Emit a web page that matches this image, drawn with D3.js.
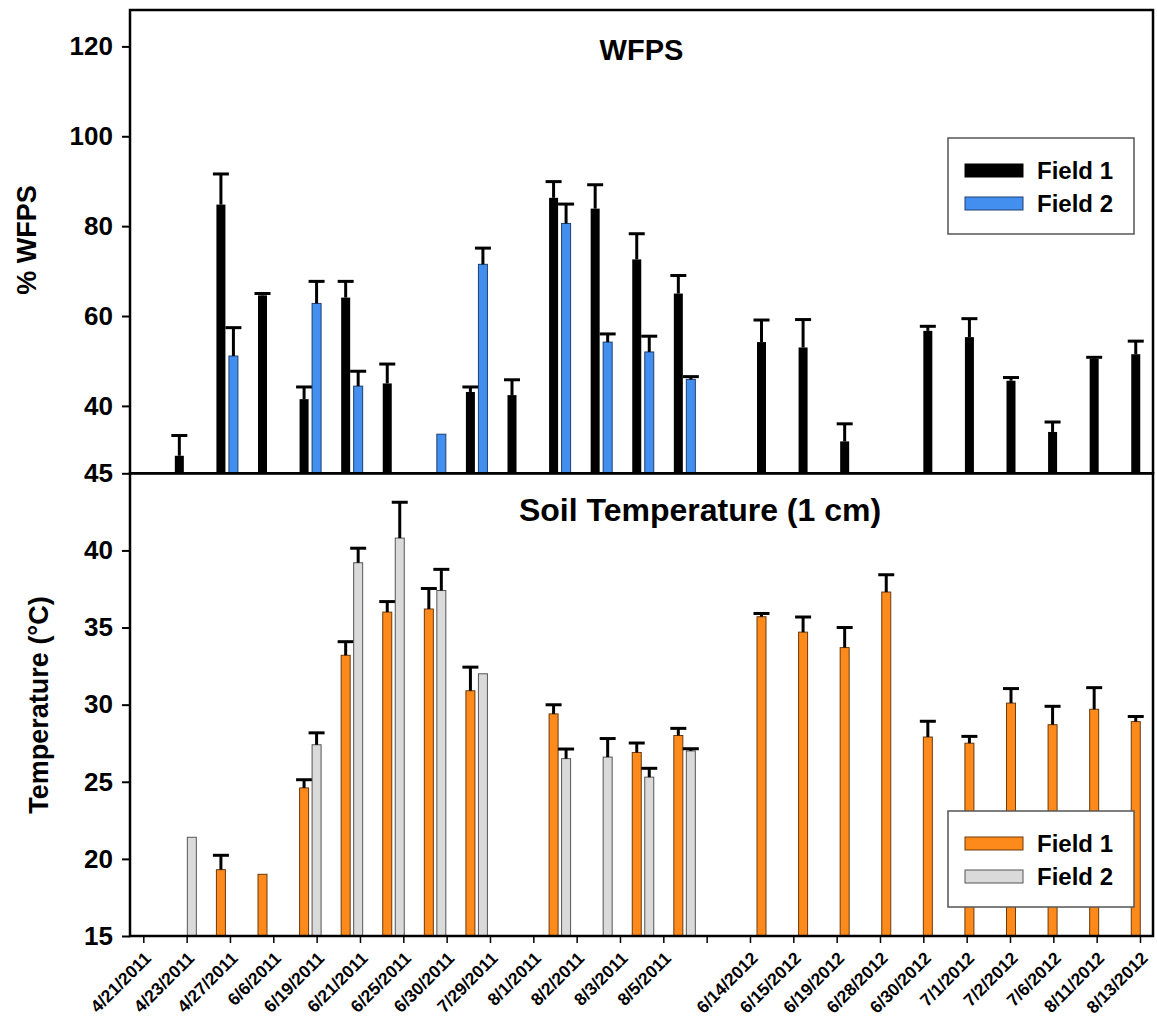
<!DOCTYPE html>
<html>
<head>
<meta charset="utf-8">
<script src="https://cdn.jsdelivr.net/npm/d3@7"></script>
<style>
  html, body { margin: 0; padding: 0; background: #fff; }
  svg { display: block; font-family: "Liberation Sans", Arial, sans-serif; font-weight: bold; }
</style>
</head>
<body>
<div id="chart"></div>
<script>
/* tick labels: 24 dates on the axis (one left blank between the seasons) */
var dateLabels = ["4/21/2011", "4/23/2011", "4/27/2011", "6/6/2011", "6/19/2011", "6/21/2011",
  "6/25/2011", "6/30/2011", "7/29/2011", "8/1/2011", "8/2/2011", "8/3/2011", "8/5/2011", "",
  "6/14/2012", "6/15/2012", "6/19/2012", "6/28/2012", "6/30/2012", "7/1/2012", "7/2/2012",
  "7/6/2012", "8/11/2012", "8/13/2012"];

/* bar groups: 25 slots as plotted (null = no bar) */
var wfpsField1 = [null, 28.9, 84.8, 64.6, 41.5, 64.1, 45.0, null, 43.1, 42.4, 86.3, 83.9, 72.6,
  65.0, null, 54.2, 53.0, 32.1, null, 56.7, 55.3, 45.6, 34.2, 50.5, 51.5];
var wfpsField1Err = [null, 4.4, 6.7, 0.3, 2.6, 3.5, 4.2, null, 1.0, 3.3, 3.5, 5.2, 5.6,
  3.9, null, 4.8, 6.1, 3.8, null, 0.9, 4.0, 0.6, 2.1, 0.2, 2.8];
var wfpsField2 = [null, null, 51.1, null, 62.8, 44.4, null, 33.7, 71.5, null, 80.6, 54.2, 52.0,
  45.9, null, null, null, null, null, null, null, null, null, null, null];
var wfpsField2Err = [null, null, 6.2, null, 4.8, 3.2, null, null, 3.5, null, 4.2, 1.7, 3.4,
  0.5, null, null, null, null, null, null, null, null, null, null, null];

var tempField1 = [null, null, 19.3, 19.0, 24.6, 33.2, 36.0, 36.2, 30.9, null, 29.4, null, 26.9,
  28.0, null, 35.7, 34.7, 33.7, 37.3, 27.9, 27.5, 30.1, 28.7, 29.7, 28.9];
var tempField1Err = [null, null, 0.9, null, 0.5, 0.85, 0.65, 1.3, 1.5, null, 0.56, null, 0.58,
  0.43, null, 0.18, 0.95, 1.27, 1.09, 0.99, 0.41, 0.91, 1.16, 1.37, 0.3];
var tempField2 = [null, 21.4, null, null, 27.4, 39.2, 40.8, 37.4, 32.0, null, 26.5, 26.6, 25.3,
  27.0, null, null, null, null, null, null, null, null, null, null, null];
var tempField2Err = [null, null, null, null, 0.74, 0.91, 2.29, 1.34, null, null, 0.59, 1.17, 0.54,
  0.11, null, null, null, null, null, null, null, null, null, null, null];

var seriesNames = ["Field 1", "Field 2"];

(function () {
  "use strict";

  var W = 1157, H = 1021;
  var L = 130, R = 1153, T = 10, M = 473.3, B = 936;
  var bw = 9, off = 6.25;

  var svg = d3.select("#chart").append("svg")
    .attr("width", W).attr("height", H)
    .attr("viewBox", "0 0 " + W + " " + H);

  var slot = d3.scalePoint().domain(d3.range(wfpsField1.length)).range([144, 1142]);
  var tickX = d3.scalePoint().domain(d3.range(dateLabels.length)).range([143.3, 1140]);
  var yW = d3.scaleLinear().domain([25, 128.1]).range([M, T]);
  var yT = d3.scaleLinear().domain([15, 45]).range([B, M]);

  function rows(vals, errs) {
    return vals.map(function (v, i) { return { i: i, v: v, e: errs[i] }; })
      .filter(function (d) { return d.v != null; });
  }

  function bars(y, vals, errs, dx, fill, stroke) {
    var data = rows(vals, errs);
    var g = svg.append("g");
    g.selectAll("rect").data(data).enter().append("rect")
      .attr("x", function (d) { return slot(d.i) + dx - bw / 2; })
      .attr("y", function (d) { return y(d.v); })
      .attr("width", bw)
      .attr("height", function (d) { return y.range()[0] - y(d.v); })
      .attr("fill", fill)
      .attr("stroke", stroke)
      .attr("stroke-width", stroke === "none" ? 0 : 1);

    var eb = data.filter(function (d) { return d.e != null; });
    g.selectAll("line.stem").data(eb).enter().append("line")
      .attr("class", "stem")
      .attr("x1", function (d) { return slot(d.i) + dx; })
      .attr("x2", function (d) { return slot(d.i) + dx; })
      .attr("y1", function (d) { return y(d.v); })
      .attr("y2", function (d) { return y(d.v + d.e); })
      .attr("stroke", "#000").attr("stroke-width", 3);
    g.selectAll("line.cap").data(eb).enter().append("line")
      .attr("class", "cap")
      .attr("x1", function (d) { return slot(d.i) + dx - 8; })
      .attr("x2", function (d) { return slot(d.i) + dx + 8; })
      .attr("y1", function (d) { return y(d.v + d.e) - 0.5; })
      .attr("y2", function (d) { return y(d.v + d.e) - 0.5; })
      .attr("stroke", "#000").attr("stroke-width", 3);
  }

  /* WFPS panel */
  bars(yW, wfpsField1, wfpsField1Err, -off, "#000", "none");
  bars(yW, wfpsField2, wfpsField2Err, off, "#428ff0", "#1d3f70");

  /* temperature panel */
  bars(yT, tempField1, tempField1Err, -off, "#ff8a1c", "#6b3a0c");
  bars(yT, tempField2, tempField2Err, off, "#dadada", "#555");

  /* frames */
  svg.append("rect").attr("x", L).attr("y", T).attr("width", R - L).attr("height", M - T)
    .attr("fill", "none").attr("stroke", "#000").attr("stroke-width", 2.5);
  svg.append("rect").attr("x", L).attr("y", M).attr("width", R - L).attr("height", B - M)
    .attr("fill", "none").attr("stroke", "#000").attr("stroke-width", 2.5);

  /* y axes */
  function yAxis(scale, vals) {
    var g = svg.append("g").attr("transform", "translate(" + L + ",0)")
      .call(d3.axisLeft(scale).tickValues(vals).tickSize(8).tickPadding(9).tickFormat(d3.format("d")));
    g.select(".domain").remove();
    g.selectAll(".tick line").attr("stroke", "#000").attr("stroke-width", 2);
    g.selectAll(".tick text").attr("fill", "#000")
      .style("font-size", "26px").style("font-family", "inherit").style("font-weight", "bold");
    return g;
  }
  yAxis(yW, [40, 60, 80, 100, 120]);
  yAxis(yT, [15, 20, 25, 30, 35, 40, 45]);

  /* x axis */
  var gx = svg.append("g").attr("transform", "translate(0," + B + ")")
    .call(d3.axisBottom(tickX).tickSize(7).tickFormat(function (i) { return dateLabels[i]; }));
  gx.select(".domain").remove();
  gx.selectAll(".tick line").attr("stroke", "#000").attr("stroke-width", 1.5);
  gx.selectAll(".tick text")
    .attr("fill", "#000")
    .style("font-size", "17.5px").style("font-family", "inherit").style("font-weight", "bold")
    .attr("text-anchor", "end")
    .attr("x", 0).attr("y", 0).attr("dy", "0.35em")
    .attr("transform", "translate(4,19) rotate(-45)");

  /* titles */
  svg.append("text").attr("x", (L + R) / 2).attr("y", 60).attr("text-anchor", "middle")
    .style("font-size", "29px").text("WFPS");
  svg.append("text").attr("x", 700).attr("y", 521).attr("text-anchor", "middle")
    .style("font-size", "32px").text("Soil Temperature (1 cm)");
  svg.append("text").attr("transform", "translate(36,240) rotate(-90)").attr("text-anchor", "middle")
    .style("font-size", "27px").text("% WFPS");
  svg.append("text").attr("transform", "translate(48,705) rotate(-90)").attr("text-anchor", "middle")
    .style("font-size", "27px").text("Temperature (\u00B0C)");

  /* legends */
  function legend(y0, fills, strokes) {
    var g = svg.append("g");
    g.append("rect").attr("x", 948).attr("y", y0).attr("width", 186).attr("height", 96)
      .attr("fill", "#fff").attr("stroke", "#555").attr("stroke-width", 1.5);
    seriesNames.forEach(function (name, k) {
      var cy = y0 + 32.5 + k * 33;
      g.append("rect").attr("x", 965).attr("y", cy - 6.5).attr("width", 58).attr("height", 13)
        .attr("fill", fills[k]).attr("stroke", strokes[k]).attr("stroke-width", 1);
      g.append("text").attr("x", 1037).attr("y", cy + 8.5)
        .style("font-size", "24px").text(name);
    });
  }
  legend(138, ["#000", "#428ff0"], ["#000", "#1d3f70"]);
  legend(811, ["#ff8a1c", "#dadada"], ["#6b3a0c", "#555"]);
})();
</script>
</body>
</html>
